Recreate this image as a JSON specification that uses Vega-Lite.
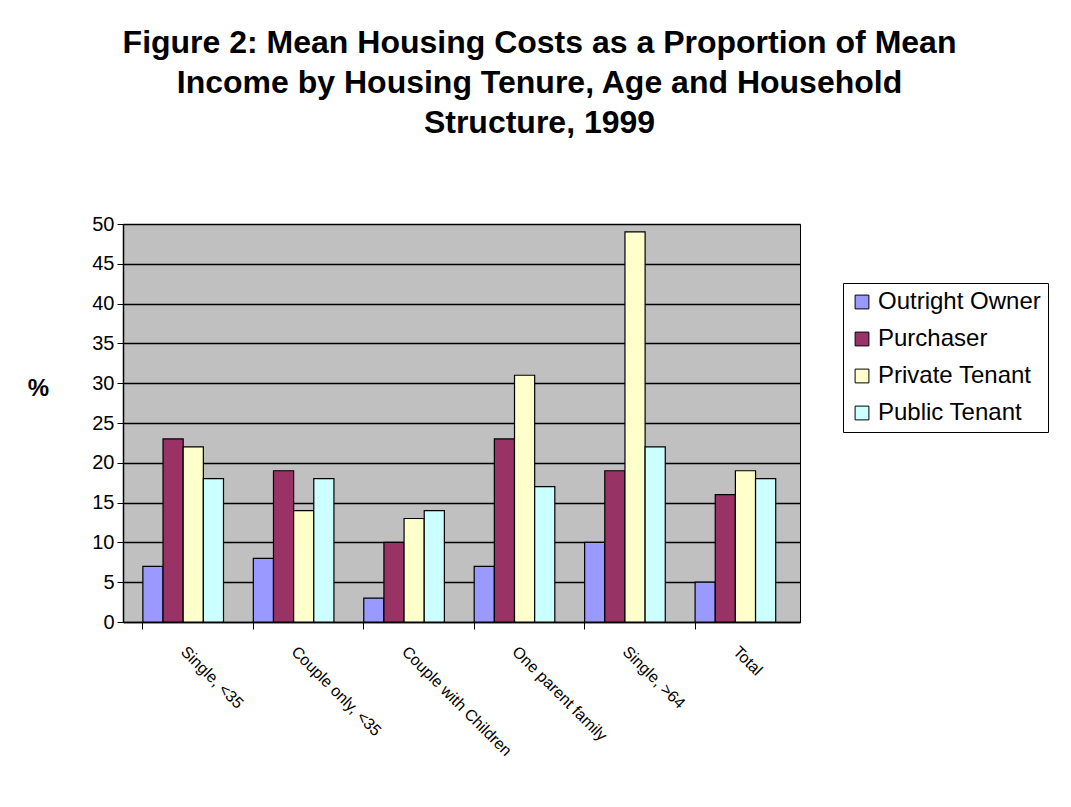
{
  "$schema": "https://vega.github.io/schema/vega-lite/v6.json",
  "autosize": {"type": "none"},
  "width": 677,
  "height": 398,
  "padding": {"left": 123, "top": 224, "right": 271, "bottom": 185},
  "background": "white",
  "title": {
    "text": ["Figure 2: Mean Housing Costs as a Proportion of Mean", "Income by Housing Tenure, Age and Household", "Structure, 1999"],
    "font": "Liberation Sans, Arial, sans-serif",
    "fontSize": 32,
    "fontWeight": "bold",
    "color": "black",
    "anchor": "middle",
    "dx": 78,
    "lineHeight": 40,
    "offset": 74
  },
  "data": {
    "values": [
      {"group": "Single, <35", "tenure": "Outright Owner", "value": 7},
      {"group": "Single, <35", "tenure": "Purchaser", "value": 23},
      {"group": "Single, <35", "tenure": "Private Tenant", "value": 22},
      {"group": "Single, <35", "tenure": "Public Tenant", "value": 18},
      {"group": "Couple only, <35", "tenure": "Outright Owner", "value": 8},
      {"group": "Couple only, <35", "tenure": "Purchaser", "value": 19},
      {"group": "Couple only, <35", "tenure": "Private Tenant", "value": 14},
      {"group": "Couple only, <35", "tenure": "Public Tenant", "value": 18},
      {"group": "Couple with Children", "tenure": "Outright Owner", "value": 3},
      {"group": "Couple with Children", "tenure": "Purchaser", "value": 10},
      {"group": "Couple with Children", "tenure": "Private Tenant", "value": 13},
      {"group": "Couple with Children", "tenure": "Public Tenant", "value": 14},
      {"group": "One parent family", "tenure": "Outright Owner", "value": 7},
      {"group": "One parent family", "tenure": "Purchaser", "value": 23},
      {"group": "One parent family", "tenure": "Private Tenant", "value": 31},
      {"group": "One parent family", "tenure": "Public Tenant", "value": 17},
      {"group": "Single, >64", "tenure": "Outright Owner", "value": 10},
      {"group": "Single, >64", "tenure": "Purchaser", "value": 19},
      {"group": "Single, >64", "tenure": "Private Tenant", "value": 49},
      {"group": "Single, >64", "tenure": "Public Tenant", "value": 22},
      {"group": "Total", "tenure": "Outright Owner", "value": 5},
      {"group": "Total", "tenure": "Purchaser", "value": 16},
      {"group": "Total", "tenure": "Private Tenant", "value": 19},
      {"group": "Total", "tenure": "Public Tenant", "value": 18}
    ]
  },
  "mark": {"type": "bar", "stroke": "black", "strokeWidth": 1.2},
  "encoding": {
    "x": {
      "field": "group",
      "type": "nominal",
      "sort": ["Single, <35", "Couple only, <35", "Couple with Children", "One parent family", "Single, >64", "Total"],
      "scale": {"paddingInner": 0.27, "paddingOuter": 0.2, "align": 0.45},
      "axis": {
        "title": null,
        "labelAngle": 45,
        "labelAlign": "left",
        "labelBaseline": "top",
        "labelFont": "Liberation Sans Narrow, Liberation Sans, Arial, sans-serif",
        "labelFontSize": 16,
        "labelColor": "black",
        "labelPadding": 14,
        "labelOffset": 6,
        "labelLimit": 300,
        "bandPosition": 0,
        "tickColor": "black",
        "tickSize": 7,
        "domainColor": "black",
        "domainWidth": 1.5,
        "grid": false
      }
    },
    "xOffset": {
      "field": "tenure",
      "type": "nominal",
      "sort": ["Outright Owner", "Purchaser", "Private Tenant", "Public Tenant"],
      "scale": {"paddingInner": 0}
    },
    "y": {
      "field": "value",
      "type": "quantitative",
      "scale": {"domain": [0, 50], "nice": false},
      "axis": {
        "title": "%",
        "titleAngle": 0,
        "titleX": -85,
        "titleY": 164,
        "titleAlign": "center",
        "titleBaseline": "middle",
        "titleFont": "Liberation Sans, Arial, sans-serif",
        "titleFontSize": 24,
        "titleFontWeight": "bold",
        "titleColor": "black",
        "values": [0, 5, 10, 15, 20, 25, 30, 35, 40, 45, 50],
        "labelFont": "Liberation Sans Narrow, Liberation Sans, Arial, sans-serif",
        "labelFontSize": 20,
        "labelColor": "black",
        "labelPadding": 3,
        "tickColor": "black",
        "tickSize": 6,
        "domainColor": "black",
        "domainWidth": 1.5,
        "gridColor": "black",
        "gridWidth": 1.5,
        "gridOpacity": 1
      }
    },
    "color": {
      "field": "tenure",
      "type": "nominal",
      "sort": ["Outright Owner", "Purchaser", "Private Tenant", "Public Tenant"],
      "scale": {
        "domain": ["Outright Owner", "Purchaser", "Private Tenant", "Public Tenant"],
        "range": ["#9999FF", "#993366", "#FFFFCC", "#CCFFFF"]
      },
      "legend": {
        "title": null,
        "orient": "none",
        "legendX": 720,
        "legendY": 59,
        "symbolType": "square",
        "symbolSize": 190,
        "symbolStrokeColor": "black",
        "symbolStrokeWidth": 1,
        "labelFont": "Liberation Sans, Arial, sans-serif",
        "labelFontSize": 24,
        "labelColor": "black",
        "labelLimit": 300,
        "rowPadding": 13,
        "strokeColor": "black",
        "fillColor": "white",
        "padding": 7
      }
    }
  },
  "config": {
    "view": {"fill": "#C0C0C0", "stroke": "black", "strokeWidth": 1}
  }
}
